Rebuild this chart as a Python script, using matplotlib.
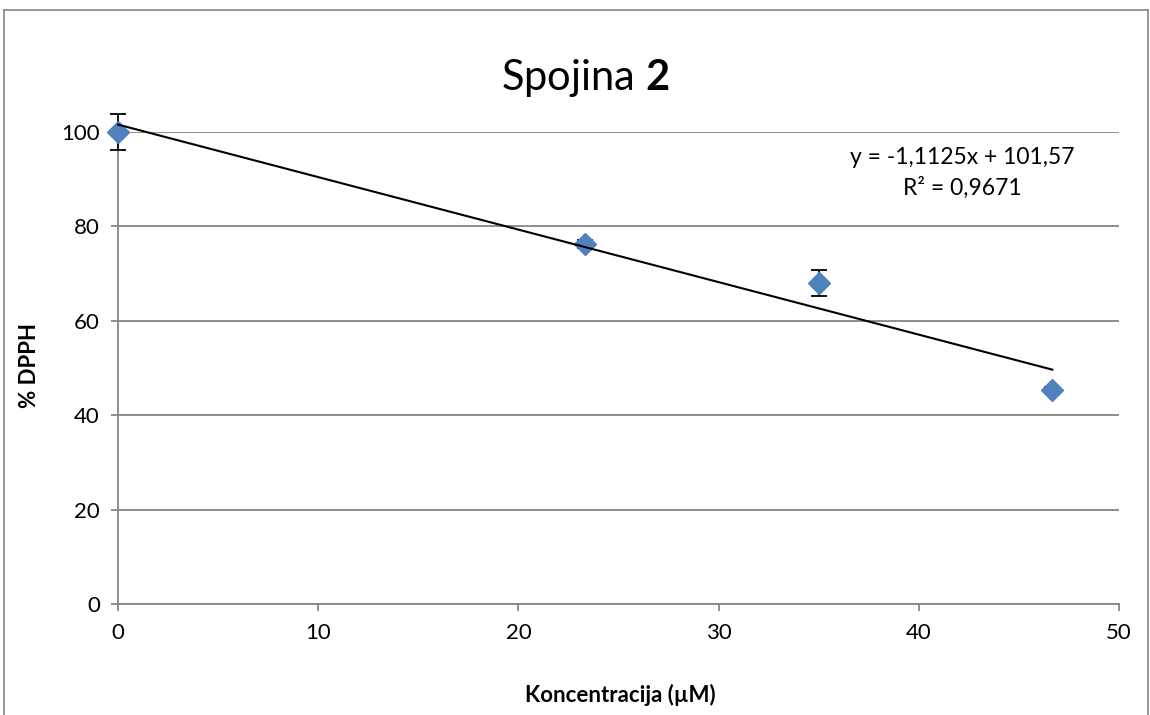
import matplotlib.pyplot as plt
from matplotlib.lines import Line2D

plt.rcParams['font.family'] = ['Lato', 'DejaVu Sans']
plt.rcParams['mathtext.fontset'] = 'custom'
plt.rcParams['mathtext.rm'] = 'Lato'
plt.rcParams['mathtext.bf'] = 'Lato:bold'

# data
konc = [0, 23.33, 35.0, 46.67]
dpph = [100.0, 76.3, 68.0, 45.4]
napaka = [3.9, 0.8, 2.7, 0.5]
slope = -1.1125
intercept = 101.57
eq_text = "y = -1,1125x + 101,57"
r2_text = "R² = 0,9671"
xticks = [0, 10, 20, 30, 40, 50]
yticks = [0, 20, 40, 60, 80, 100]

gray = "#868686"

fig = plt.figure(figsize=(11.5, 7.15), dpi=100)
ax = fig.add_axes([118 / 1150, 1 - 604 / 715, (1119 - 118) / 1150, (604 - 132) / 715])

# chart frame like excel
for xs, ys in [((3.5 / 1150, 3.5 / 1150), (0, 1 - 10 / 715)),
               ((3.5 / 1150, 1148 / 1150), (1 - 10 / 715, 1 - 10 / 715)),
               ((1148 / 1150, 1148 / 1150), (0, 1 - 10 / 715))]:
    fig.add_artist(Line2D(xs, ys, color=gray, lw=1.2))

ax.set_xlim(0, 50)
ax.set_ylim(0, 100)
ax.set_xticks(xticks)
ax.set_yticks(yticks)
ax.yaxis.grid(True, color=gray, lw=1.3)
ax.set_axisbelow(True)
for s in ["top", "right"]:
    ax.spines[s].set_visible(False)
for s in ["left", "bottom"]:
    ax.spines[s].set_color(gray)
    ax.spines[s].set_linewidth(1.3)
ax.tick_params(axis="both", colors=gray, width=1.3, length=5, labelsize=16,
               labelcolor="black")
ax.tick_params(axis="x", pad=9)
ax.tick_params(axis="y", pad=8)

ax.errorbar(konc, dpph, yerr=napaka, fmt="none", ecolor="black", elinewidth=1.3,
            capsize=6, capthick=1.3, clip_on=False, zorder=3)
ax.plot(konc, dpph, linestyle="none", marker="D", markersize=11,
        color="#4F81BD", clip_on=False, zorder=4)

tx = [min(konc), max(konc)]
ax.plot(tx, [slope * v + intercept for v in tx], color="black", lw=1.5,
        clip_on=False, zorder=5)

fig.text(962 / 1150, 1 - 158 / 715, eq_text, ha="center", va="center", fontsize=16.5)
fig.text(962 / 1150, 1 - 188 / 715, r2_text, ha="center", va="center", fontsize=16.5)

fig.text(585 / 1150, 1 - 78 / 715, r"Spojina $\mathbf{2}$", ha="center", va="center",
         fontsize=30)
fig.text(620 / 1150, 1 - 695 / 715, "Koncentracija (µM)", ha="center", va="center",
         fontsize=16, fontweight="bold")
fig.text(30 / 1150, 1 - 365 / 715, "% DPPH", ha="center", va="center",
         fontsize=16, fontweight="bold", rotation=90)

fig.savefig("out.png", dpi=100)
